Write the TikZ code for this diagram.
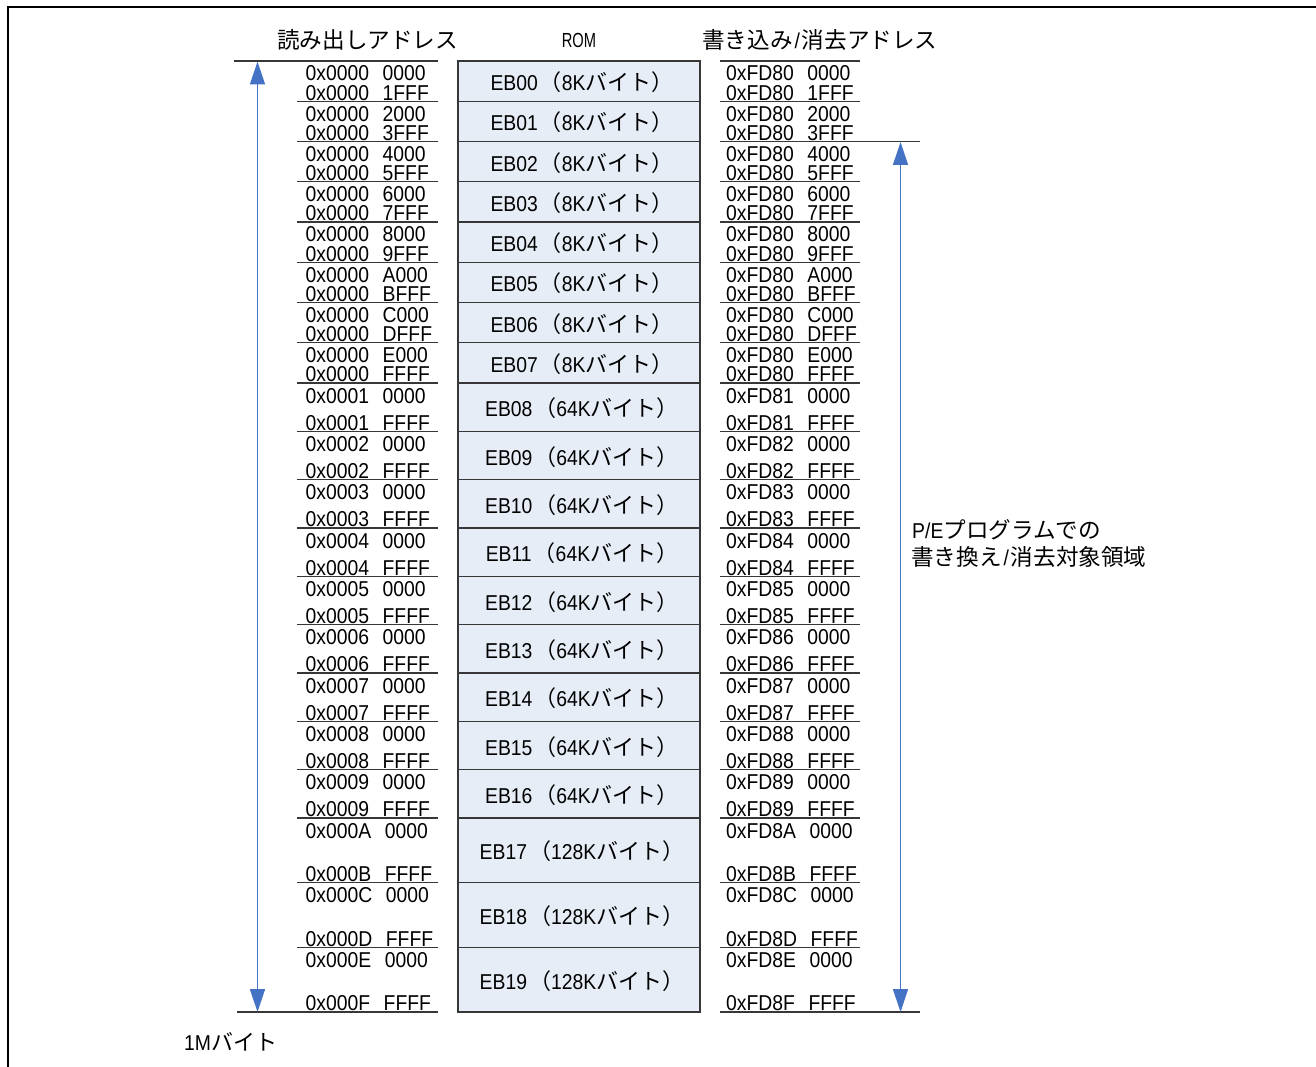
\documentclass[tikz,border=0pt]{standalone}
\usepackage{fontspec}
\newfontfamily\lat[FakeStretch=0.9]{Liberation Sans}
\newfontfamily\romlat[FakeStretch=0.72]{Liberation Sans}
\newfontfamily\jp{Noto Sans CJK JP}
\usetikzlibrary{arrows.meta}
\definecolor{romfill}{RGB}{231,237,247}
\definecolor{arrowblue}{RGB}{68,114,196}
\definecolor{linegray}{RGB}{55,55,55}
\newcommand\latf{\lat\fontsize{21.5}{24}\selectfont}
\newcommand\ja[1]{{\jp\fontsize{22}{24}\selectfont #1}}
\newcommand\jah[1]{{\jp\fontsize{22.6}{24}\selectfont #1}}
\newcommand\slsh{\hspace{2pt}/\hspace{2pt}}
\newcommand\hexa[2]{#1\hspace{13.5pt}#2}
\newcommand\kbl[2]{#1\hspace{2pt}\ja{（}#2\ja{バイト）}}
\tikzset{
  rombox/.style={draw=linegray, line width=1.3pt, fill=romfill, minimum width=242pt, inner sep=0pt},
  romlabel/.style={anchor=base, inner sep=0pt, font=\latf},
  addr/.style={anchor=base west, inner sep=0pt, font=\latf},
  sepline/.style={draw=linegray, line width=1.3pt},
  jplabel/.style={anchor=base west, inner sep=0pt, font=\latf},
  pearrow/.style={draw=arrowblue, line width=1.4pt, {Triangle[width=15pt,length=23pt]}-{Triangle[width=15pt,length=23pt]}}
}
\newcommand\romrow[8]{%
  \node[rombox, minimum height={#3-#2}] (#1) at (579,{(#2+#3)/2}) {};
  \node[romlabel] (#1t) at (582,{(#2+#3)/2+9.5}) {#4};
  \node[addr] (#1ls) at (305.5,{#2+20}) {#5};
  \node[addr] (#1le) at (305.5,{#3-1.2}) {#6};
  \node[addr] (#1rs) at (726,{#2+20}) {#7};
  \node[addr] (#1re) at (726,{#3-1.2}) {#8};
  \draw[sepline] (297,#3) -- (438,#3);
  \draw[sepline] (720,#3) -- (860,#3);
}
\begin{document}
\begin{tikzpicture}[x=1pt,y=-1pt]
\useasboundingbox (0,0) rectangle (1316,1067);
% frame
\draw[line width=2.4pt] (8,1067) -- (8,7) -- (1316,7);
% headers
\node[jplabel] (hread) at (277,48.5) {\jah{読み出しアドレス}};
\node[anchor=base, inner sep=0pt, font=\romlat\fontsize{20.4}{22}\selectfont] (hrom) at (579,47.3) {ROM};
\node[jplabel] (hwrite) at (702,48.5) {\jah{書き込み}\slsh\jah{消去アドレス}};
% top lines
\draw[sepline] (234,61) -- (438,61);
\draw[sepline] (720,61) -- (860,61);
% rows
\romrow{eb00}{61}{101.25}{\kbl{EB00}{8K}}{\hexa{0x0000}{0000}}{\hexa{0x0000}{1FFF}}{\hexa{0xFD80}{0000}}{\hexa{0xFD80}{1FFF}}
\romrow{eb01}{101.25}{141.5}{\kbl{EB01}{8K}}{\hexa{0x0000}{2000}}{\hexa{0x0000}{3FFF}}{\hexa{0xFD80}{2000}}{\hexa{0xFD80}{3FFF}}
\romrow{eb02}{141.5}{181.75}{\kbl{EB02}{8K}}{\hexa{0x0000}{4000}}{\hexa{0x0000}{5FFF}}{\hexa{0xFD80}{4000}}{\hexa{0xFD80}{5FFF}}
\romrow{eb03}{181.75}{222}{\kbl{EB03}{8K}}{\hexa{0x0000}{6000}}{\hexa{0x0000}{7FFF}}{\hexa{0xFD80}{6000}}{\hexa{0xFD80}{7FFF}}
\romrow{eb04}{222}{262.25}{\kbl{EB04}{8K}}{\hexa{0x0000}{8000}}{\hexa{0x0000}{9FFF}}{\hexa{0xFD80}{8000}}{\hexa{0xFD80}{9FFF}}
\romrow{eb05}{262.25}{302.5}{\kbl{EB05}{8K}}{\hexa{0x0000}{A000}}{\hexa{0x0000}{BFFF}}{\hexa{0xFD80}{A000}}{\hexa{0xFD80}{BFFF}}
\romrow{eb06}{302.5}{342.75}{\kbl{EB06}{8K}}{\hexa{0x0000}{C000}}{\hexa{0x0000}{DFFF}}{\hexa{0xFD80}{C000}}{\hexa{0xFD80}{DFFF}}
\romrow{eb07}{342.75}{383}{\kbl{EB07}{8K}}{\hexa{0x0000}{E000}}{\hexa{0x0000}{FFFF}}{\hexa{0xFD80}{E000}}{\hexa{0xFD80}{FFFF}}
\romrow{eb08}{383}{431.33}{\kbl{EB08}{64K}}{\hexa{0x0001}{0000}}{\hexa{0x0001}{FFFF}}{\hexa{0xFD81}{0000}}{\hexa{0xFD81}{FFFF}}
\romrow{eb09}{431.33}{479.67}{\kbl{EB09}{64K}}{\hexa{0x0002}{0000}}{\hexa{0x0002}{FFFF}}{\hexa{0xFD82}{0000}}{\hexa{0xFD82}{FFFF}}
\romrow{eb10}{479.67}{528}{\kbl{EB10}{64K}}{\hexa{0x0003}{0000}}{\hexa{0x0003}{FFFF}}{\hexa{0xFD83}{0000}}{\hexa{0xFD83}{FFFF}}
\romrow{eb11}{528}{576.33}{\kbl{EB11}{64K}}{\hexa{0x0004}{0000}}{\hexa{0x0004}{FFFF}}{\hexa{0xFD84}{0000}}{\hexa{0xFD84}{FFFF}}
\romrow{eb12}{576.33}{624.67}{\kbl{EB12}{64K}}{\hexa{0x0005}{0000}}{\hexa{0x0005}{FFFF}}{\hexa{0xFD85}{0000}}{\hexa{0xFD85}{FFFF}}
\romrow{eb13}{624.67}{673}{\kbl{EB13}{64K}}{\hexa{0x0006}{0000}}{\hexa{0x0006}{FFFF}}{\hexa{0xFD86}{0000}}{\hexa{0xFD86}{FFFF}}
\romrow{eb14}{673}{721.33}{\kbl{EB14}{64K}}{\hexa{0x0007}{0000}}{\hexa{0x0007}{FFFF}}{\hexa{0xFD87}{0000}}{\hexa{0xFD87}{FFFF}}
\romrow{eb15}{721.33}{769.67}{\kbl{EB15}{64K}}{\hexa{0x0008}{0000}}{\hexa{0x0008}{FFFF}}{\hexa{0xFD88}{0000}}{\hexa{0xFD88}{FFFF}}
\romrow{eb16}{769.67}{818}{\kbl{EB16}{64K}}{\hexa{0x0009}{0000}}{\hexa{0x0009}{FFFF}}{\hexa{0xFD89}{0000}}{\hexa{0xFD89}{FFFF}}
\romrow{eb17}{818}{882.67}{\kbl{EB17}{128K}}{\hexa{0x000A}{0000}}{\hexa{0x000B}{FFFF}}{\hexa{0xFD8A}{0000}}{\hexa{0xFD8B}{FFFF}}
\romrow{eb18}{882.67}{947.33}{\kbl{EB18}{128K}}{\hexa{0x000C}{0000}}{\hexa{0x000D}{FFFF}}{\hexa{0xFD8C}{0000}}{\hexa{0xFD8D}{FFFF}}
\romrow{eb19}{947.33}{1012}{\kbl{EB19}{128K}}{\hexa{0x000E}{0000}}{\hexa{0x000F}{FFFF}}{\hexa{0xFD8E}{0000}}{\hexa{0xFD8F}{FFFF}}
% extended lines
\draw[sepline] (860,141.5) -- (920,141.5);
\draw[sepline] (237,1012) -- (297,1012);
\draw[sepline] (860,1012) -- (920,1012);
% arrows
\coordinate (la1) at (257.5,61.5);
\coordinate (la2) at (257.5,1012);
\draw[pearrow] (la1) -- (la2);
\coordinate (ra1) at (900.5,142);
\coordinate (ra2) at (900.5,1012);
\draw[pearrow] (ra1) -- (ra2);
% side labels
\node[jplabel] (pe1) at (912,538) {P/E\jah{プログラムでの}};
\node[jplabel] (pe2) at (911,565.5) {\jah{書き換え}\slsh\jah{消去対象領域}};
\node[jplabel] (mb) at (184,1050) {1M\ja{バイト}};
\end{tikzpicture}
\end{document}
